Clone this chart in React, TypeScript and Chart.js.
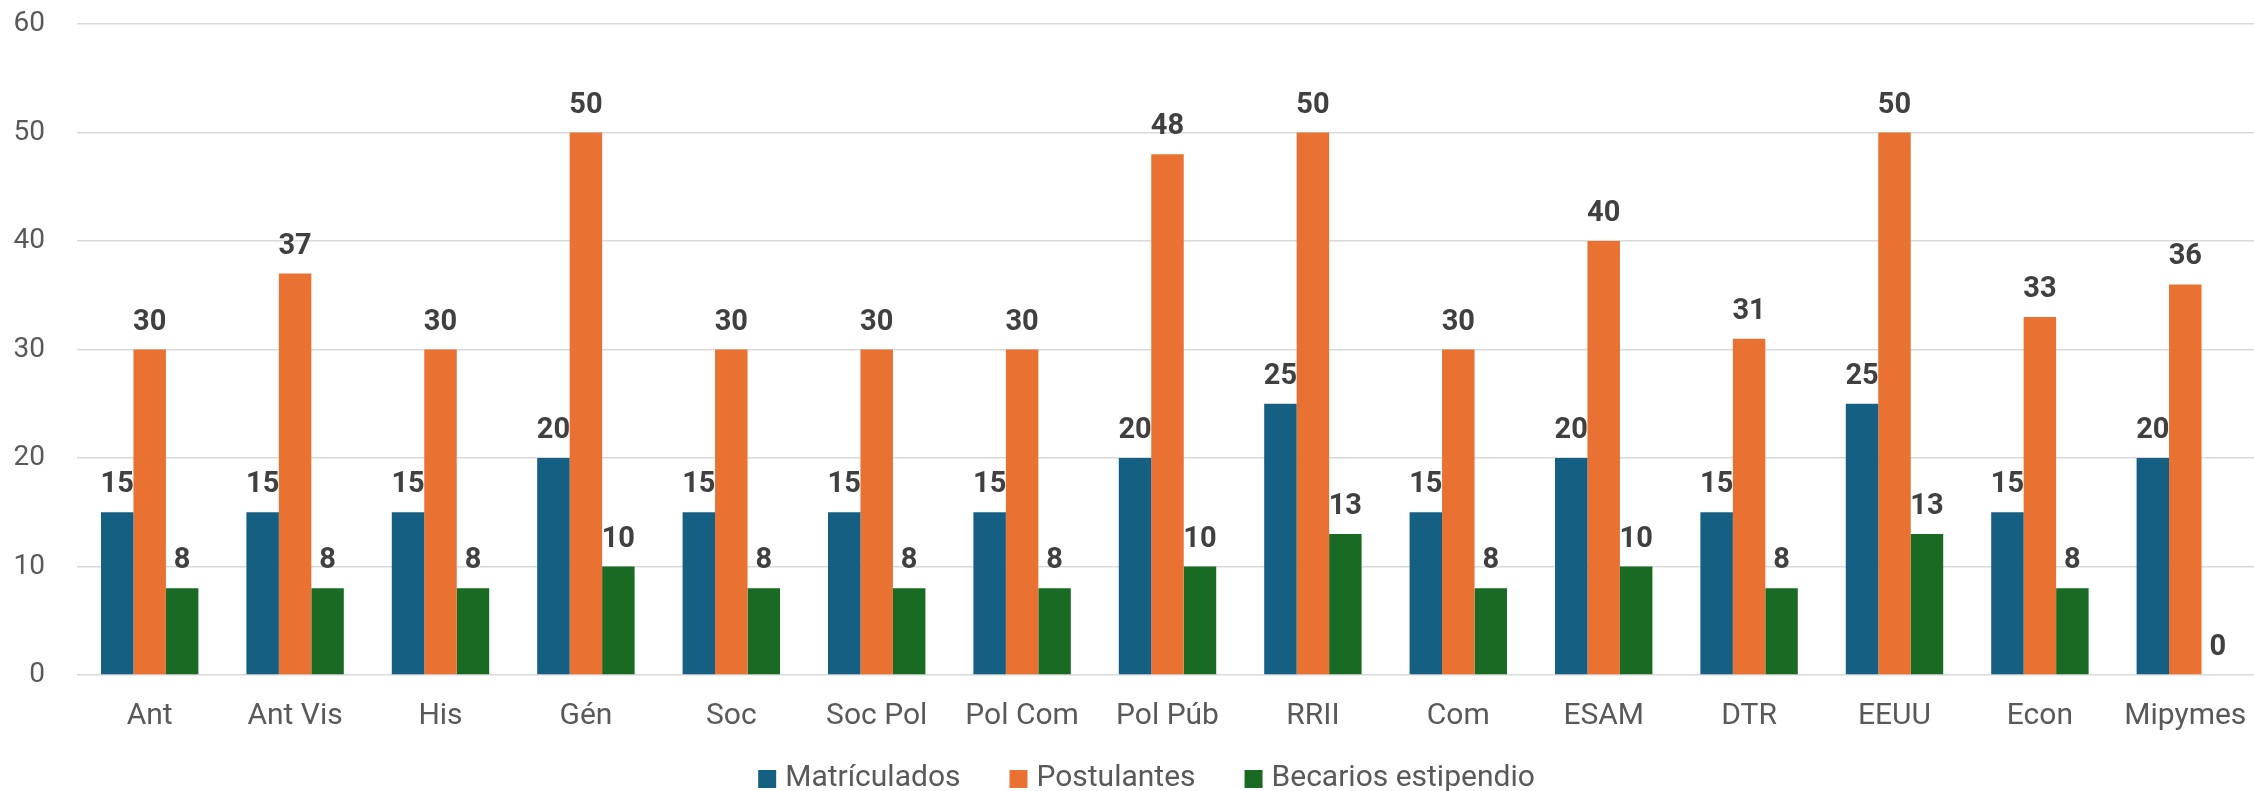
import React, { useEffect, useRef } from "react";
import { Chart, registerables } from "chart.js";

Chart.register(...registerables);

const categories = ["Ant", "Ant Vis", "His", "Gén", "Soc", "Soc Pol", "Pol Com", "Pol Púb", "RRII", "Com", "ESAM", "DTR", "EEUU", "Econ", "Mipymes"];
const matriculados = [15, 15, 15, 20, 15, 15, 15, 20, 25, 15, 20, 15, 25, 15, 20];
const postulantes = [30, 37, 30, 50, 30, 30, 30, 48, 50, 30, 40, 31, 50, 33, 36];
const becarios = [8, 8, 8, 10, 8, 8, 8, 10, 13, 8, 10, 8, 13, 8, 0];
const seriesNames = ["Matrículados", "Postulantes", "Becarios estipendio"];
const seriesColors = ["#156082", "#E97132", "#196B24"];
const yTicks = [0, 10, 20, 30, 40, 50, 60];

const FONT = "Roboto, 'Liberation Sans', sans-serif";
const PAGE_W = 2254;
const CANVAS_W = 2258;
const CANVAS_H = 791;

const dataLabelPlugin = {
  id: "dataLabels",
  afterDatasetsDraw(chart: any) {
    const ctx = chart.ctx;
    ctx.save();
    ctx.font = `bold 29px ${FONT}`;
    ctx.fillStyle = "#404040";
    ctx.textAlign = "center";
    ctx.textBaseline = "alphabetic";
    chart.data.datasets.forEach((ds: any, i: number) => {
      const meta = chart.getDatasetMeta(i);
      meta.data.forEach((bar: any, j: number) => {
        ctx.fillText(String(ds.data[j]), bar.x, bar.y - 20);
      });
    });
    ctx.restore();
  },
};

const legendPlugin = {
  id: "customLegend",
  afterDraw(chart: any) {
    const ctx = chart.ctx;
    ctx.save();
    ctx.font = `30px ${FONT}`;
    ctx.textBaseline = "middle";
    ctx.textAlign = "left";
    const box = 18;
    const gap = 9;
    const spacing = 49;
    const items = chart.data.datasets.map((ds: any) => ({
      text: ds.label,
      color: ds.backgroundColor,
      w: box + gap + ctx.measureText(ds.label).width,
    }));
    const total = items.reduce((s: number, it: any) => s + it.w, 0) + spacing * (items.length - 1);
    const cx = PAGE_W / 2 + 19.5;
    let x = cx - total / 2;
    const yc = 778;
    items.forEach((it: any) => {
      ctx.fillStyle = it.color;
      ctx.fillRect(x, yc - 8, box, box);
      ctx.fillStyle = "#595959";
      ctx.fillText(it.text, x + box + gap, yc);
      x += it.w + spacing;
    });
    ctx.restore();
  },
};

export default function App() {
  const ref = useRef<HTMLCanvasElement | null>(null);
  useEffect(() => {
    document.body.style.margin = "0";
    document.body.style.overflow = "hidden";
    document.documentElement.style.overflow = "hidden";
    if (!ref.current) return;
    const chart = new Chart(ref.current, {
      type: "bar",
      data: {
        labels: categories,
        datasets: [
          { label: seriesNames[0], data: matriculados, backgroundColor: seriesColors[0] },
          { label: seriesNames[1], data: postulantes, backgroundColor: seriesColors[1] },
          { label: seriesNames[2], data: becarios, backgroundColor: seriesColors[2] },
        ],
      },
      options: {
        responsive: false,
        animation: false,
        devicePixelRatio: 1,
        datasets: { bar: { categoryPercentage: 0.67, barPercentage: 1.0 } },
        layout: { padding: { top: 24, right: 0, bottom: 56, left: 0 } },
        plugins: {
          legend: { display: false },
          tooltip: { enabled: false },
        },
        scales: {
          x: {
            grid: { display: false, drawTicks: false },
            border: { display: false },
            ticks: {
              font: { family: FONT, size: 30 },
              color: "#595959",
              padding: 23,
              maxRotation: 0,
              autoSkip: false,
            },
            afterFit: (scale: any) => {
              scale.height = 60;
              scale.paddingLeft = 0;
              scale.paddingRight = 0;
            },
          },
          y: {
            min: 0,
            max: 60,
            afterBuildTicks: (scale: any) => {
              scale.ticks = yTicks.map((v) => ({ value: v }));
            },
            grid: { color: "#d9d9d9", lineWidth: 1.5, drawTicks: false },
            border: { display: false },
            ticks: {
              font: { family: FONT, size: 28 },
              color: "#595959",
              padding: 32,
            },
            afterFit: (scale: any) => {
              scale.width = 77;
              scale.paddingTop = 0;
              scale.paddingBottom = 0;
            },
          },
        },
      },
      plugins: [dataLabelPlugin, legendPlugin],
    });
    return () => chart.destroy();
  }, []);
  return (
    <div style={{ width: PAGE_W, height: CANVAS_H, overflow: "hidden" }}>
      <canvas ref={ref} width={CANVAS_W} height={CANVAS_H} style={{ display: "block" }} />
    </div>
  );
}
